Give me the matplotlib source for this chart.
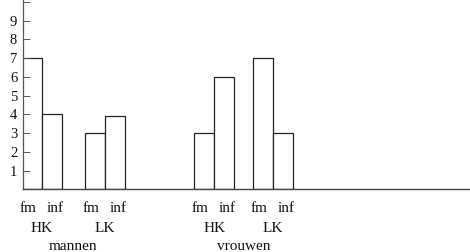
import matplotlib
matplotlib.use("Agg")
import matplotlib.pyplot as plt
import matplotlib.transforms as mtransforms

# data
groups = ["mannen", "vrouwen"]
classes = ["HK", "LK"]
measures = ["fm", "inf"]
mannen_HK = [7, 4]
mannen_LK = [3, 3.9]
vrouwen_HK = [3, 6]
vrouwen_LK = [7, 3]
yticks = [1, 2, 3, 4, 5, 6, 7, 8, 9]

series = [mannen_HK, mannen_LK, vrouwen_HK, vrouwen_LK]
pair_centers = [0.95, 4.1, 9.57, 12.5]   # layout positions
bar_w = 1.0

W, H = 470, 252
fig = plt.figure(figsize=(W / 100, H / 100), dpi=100)
left = 22.7 / W
bottom = (H - 189.4) / H
top_px = 1.9
ax = fig.add_axes([left, bottom, 1 - left, (189.4 - top_px) / H])

ec = "#222222"
for c, vals in zip(pair_centers, series):
    xs = [c - bar_w / 2, c + bar_w / 2]
    ax.bar(xs, vals, width=bar_w, facecolor="white", edgecolor=ec, linewidth=0.9)

ax.set_xlim(0, (W - 22.7) / 20)
ax.set_ylim(0, 10)

for s in ["top", "right"]:
    ax.spines[s].set_visible(False)
ax.spines["left"].set_color("#555555")
ax.spines["left"].set_linewidth(0.9)
ax.spines["bottom"].set_color("#444444")
ax.spines["bottom"].set_linewidth(1.0)
ax.spines["left"].set_bounds(0, 10.2)

ax.set_yticks(yticks + [10])
ax.set_yticklabels([str(t) for t in yticks] + [""])
ax.tick_params(axis="y", direction="in", length=5, width=0.7, color="#555555",
               pad=4, labelsize=10.5, labelcolor="#111111")
ax.set_xticks([])
for lab in ax.get_yticklabels():
    lab.set_family("Liberation Serif")

font = dict(family="Liberation Serif", fontsize=11, ha="center", va="center", color="#111111")
trans = mtransforms.blended_transform_factory(ax.transData, fig.transFigure)

def fy(py):
    return 1 - py / H

for c in pair_centers:
    ax.text(c - 0.68, fy(209), measures[0], transform=trans, clip_on=False, **font)
    ax.text(c + 0.66, fy(209), measures[1], transform=trans, clip_on=False, **font)

for i, c in enumerate(pair_centers):
    ax.text(c, fy(229), classes[i % 2], transform=trans, clip_on=False, **font)

for g, (a, b) in zip(groups, [(0, 1), (2, 3)]):
    xm = (pair_centers[a] + pair_centers[b]) / 2
    ax.text(xm, fy(246), g, transform=trans, clip_on=False, **font)

fig.savefig("out.png", dpi=100)
